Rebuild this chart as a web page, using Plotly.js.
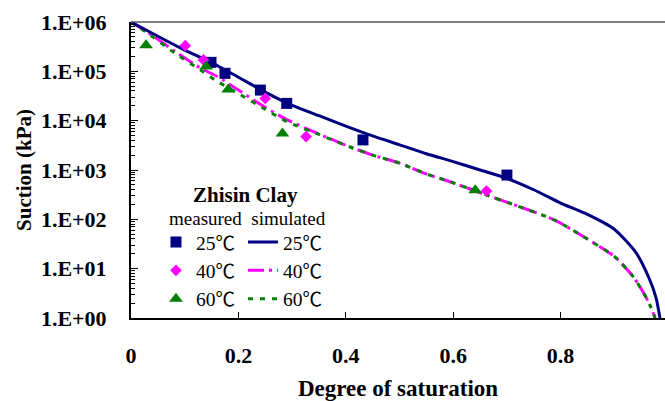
<!DOCTYPE html>
<html>
<head>
<meta charset="utf-8">
<script src="https://cdn.plot.ly/plotly-3.0.1.min.js"></script>
<style>html,body{margin:0;padding:0;background:#fff;}#chart{width:665px;height:401px;}</style>
</head>
<body>
<div id="chart"></div>
<script>
// Measured data (degree of saturation, suction kPa)
var meas25S = [0.149, 0.175, 0.241, 0.290, 0.432, 0.700];
var meas25Psi = [152000, 91000, 41700, 22400, 4070, 790];
var meas40S = [0.101, 0.135, 0.250, 0.326, 0.662];
var meas40Psi = [331000, 170000, 28300, 4770, 375];
var meas60S = [0.028, 0.140, 0.181, 0.282, 0.641];
var meas60Psi = [339000, 126000, 42700, 5500, 390];

// Simulated curves
var sim25S = [0, 0.05, 0.1, 0.15, 0.2, 0.25, 0.3, 0.35, 0.4, 0.45, 0.5, 0.55, 0.6, 0.65, 0.7, 0.75, 0.8, 0.85, 0.9, 0.94, 0.965, 0.978, 0.985];
var sim25Psi = [1000000, 513000, 269000, 151000, 75900, 38000, 20400, 12600, 7760, 4900, 3240, 2140, 1480, 1000, 676, 398, 214, 126, 63.1, 21.4, 6.31, 2.51, 1];
var sim40S = [0, 0.03, 0.08, 0.13, 0.16, 0.2, 0.25, 0.29, 0.35, 0.4, 0.45, 0.5, 0.55, 0.6, 0.66, 0.72, 0.79, 0.85, 0.9, 0.935, 0.955, 0.968, 0.976];
var sim40Psi = [1000000, 631000, 263000, 115000, 79400, 41700, 18600, 10500, 5370, 3160, 2000, 1380, 832, 550, 316, 186, 95.5, 39.8, 17.8, 6.92, 3.16, 1.66, 1];
var sim60S = [0, 0.03, 0.08, 0.13, 0.16, 0.2, 0.25, 0.29, 0.35, 0.4, 0.45, 0.5, 0.55, 0.6, 0.66, 0.72, 0.79, 0.85, 0.9, 0.935, 0.955, 0.968, 0.976];
var sim60Psi = [1000000, 603000, 240000, 105000, 63100, 35500, 17000, 9550, 5250, 3160, 2000, 1380, 832, 550, 316, 186, 95.5, 39.8, 17.8, 6.92, 3.16, 1.66, 1];

var yTickVals = [1, 10, 100, 1000, 10000, 100000, 1000000];
var yTickText = ['1.E+00', '1.E+01', '1.E+02', '1.E+03', '1.E+04', '1.E+05', '1.E+06'];
var xTickVals = [0, 0.2, 0.4, 0.6, 0.8, 1];
var xTickText = ['0', '0.2', '0.4', '0.6', '0.8', '1'];
var tempLabels = ['25', '40', '60'];

// minor log ticks (2..9 within each decade)
var yMinorVals = [];
for (var dec = 0; dec < 6; dec++) {
  for (var k = 2; k <= 9; k++) yMinorVals.push(k * Math.pow(10, dec));
}

var NAVY = '#000080', MAG = '#FF00FF', GRN = '#008000';
var serif = 'Liberation Serif';
var legFont = {family: serif, size: 19.5, color: '#000'};
function degC(t) { return t + '<span style="font-family:Noto Sans CJK SC">℃</span>'; }

var traces = [
  {x: sim40S, y: sim40Psi, type: 'scatter', mode: 'lines', name: degC(tempLabels[1]), legend: 'legend2', legendrank: 2,
   line: {color: MAG, width: 3, dash: '16px,5px,3px,5px', shape: 'spline', smoothing: 0.6}},
  {x: sim60S, y: sim60Psi, type: 'scatter', mode: 'lines', name: degC(tempLabels[2]), legend: 'legend2', legendrank: 3,
   line: {color: GRN, width: 3, dash: '5px,7px', shape: 'spline', smoothing: 0.6}},
  {x: sim25S, y: sim25Psi, type: 'scatter', mode: 'lines', name: degC(tempLabels[0]), legend: 'legend2', legendrank: 1,
   line: {color: NAVY, width: 3, shape: 'spline', smoothing: 0.6}},
  {x: meas25S, y: meas25Psi, type: 'scatter', mode: 'markers', name: degC(tempLabels[0]), legendrank: 1,
   marker: {symbol: 'square', size: 11, color: NAVY}},
  {x: meas40S, y: meas40Psi, type: 'scatter', mode: 'markers', name: degC(tempLabels[1]), legendrank: 2,
   marker: {symbol: 'diamond', size: 9, color: MAG}},
  {x: meas60S, y: meas60Psi, type: 'scatter', mode: 'markers', name: degC(tempLabels[2]), legendrank: 3,
   marker: {symbol: 'triangle-up', size: 12, color: GRN}}
];

var layout = {
  width: 665, height: 401,
  margin: {l: 131, r: 0, t: 22, b: 83},
  paper_bgcolor: '#fff', plot_bgcolor: '#fff',
  font: {family: serif, color: '#000'},
  showlegend: true,
  xaxis: {
    range: [0, 0.9944], tickmode: 'array', tickvals: xTickVals, ticktext: xTickText,
    ticks: 'inside', ticklen: 6, tickwidth: 1, tickcolor: '#000',
    showline: true, linecolor: '#000', linewidth: 2, showgrid: false, zeroline: false,
    tickfont: {family: serif, size: 22, weight: 'bold', color: '#000'},
    ticklabelstandoff: 17,
    title: {text: 'Degree of saturation', font: {family: serif, size: 23, weight: 'bold', color: '#000'}, standoff: 14},
    automargin: false
  },
  yaxis: {
    type: 'log', range: [0, 6], tickmode: 'array', tickvals: yTickVals, ticktext: yTickText,
    ticks: 'inside', ticklen: 7, tickwidth: 1, tickcolor: '#000',
    minor: {tickmode: 'array', tickvals: yMinorVals, ticks: 'inside', ticklen: 4, tickwidth: 1, tickcolor: '#000', showgrid: false},
    showline: true, linecolor: '#000', linewidth: 2, showgrid: false, zeroline: false,
    tickfont: {family: serif, size: 22, weight: 'bold', color: '#000'},
    ticklabelstandoff: 18,
    title: {text: 'Suction (kPa)', font: {family: serif, size: 21, weight: 'bold', color: '#000'}, standoff: 4},
    automargin: false
  },
  legend: {x: 0.0468, xanchor: 'left', y: 0.3216, yanchor: 'top', bgcolor: 'rgba(0,0,0,0)',
    borderwidth: 0, font: legFont, traceorder: 'normal'},
  legend2: {x: 0.2097, xanchor: 'left', y: 0.3216, yanchor: 'top', bgcolor: 'rgba(0,0,0,0)',
    borderwidth: 0, font: legFont, traceorder: 'normal'},
  annotations: [
    {text: 'Zhisin Clay', xref: 'paper', yref: 'paper', x: 0.2135, y: 0.4155, xanchor: 'center', yanchor: 'middle',
     showarrow: false, font: {family: serif, size: 21, weight: 'bold', color: '#000'}},
    {text: 'measured  simulated', xref: 'paper', yref: 'paper', x: 0.219, y: 0.335, xanchor: 'center', yanchor: 'middle',
     showarrow: false, font: {family: serif, size: 19, color: '#000'}}
  ],
  shapes: [
    {type: 'line', xref: 'paper', yref: 'paper', x0: 0, x1: 1, y0: 1, y1: 1, line: {color: '#555', width: 1.5}}
  ]
};

Plotly.newPlot('chart', traces, layout, {staticPlot: true, displayModeBar: false});
</script>
</body>
</html>
